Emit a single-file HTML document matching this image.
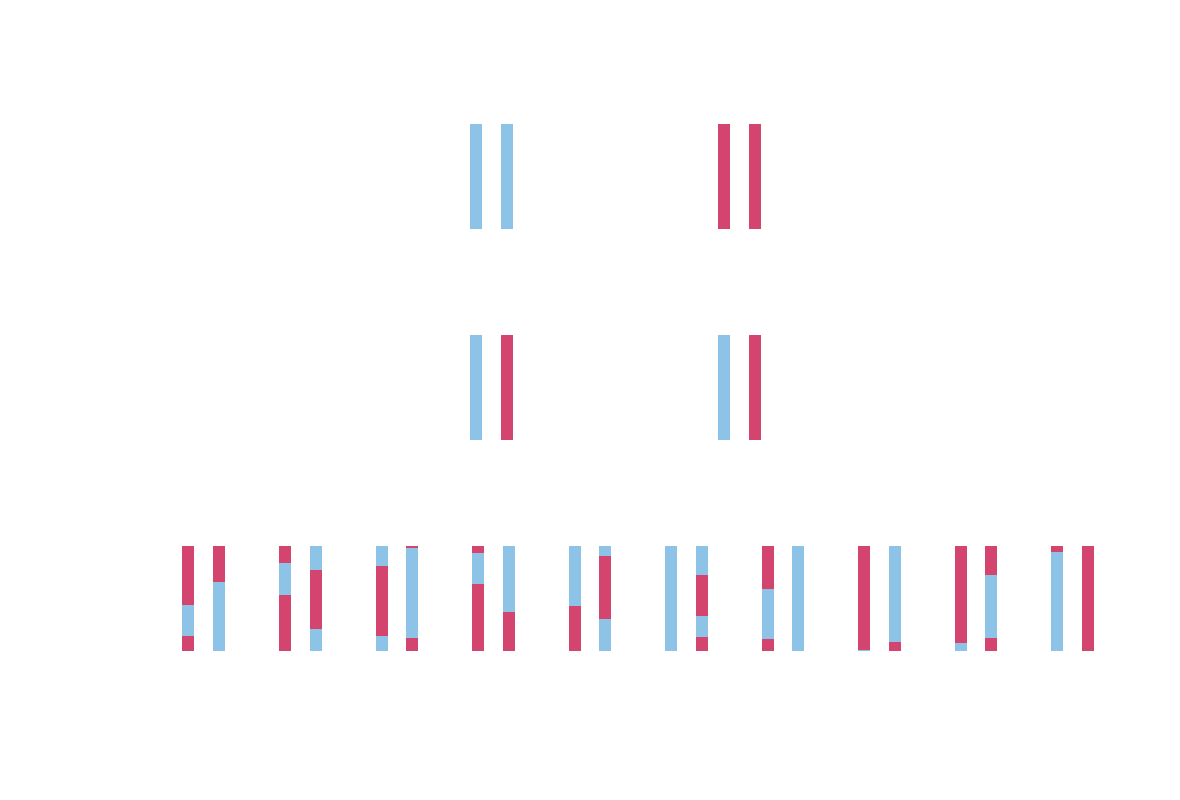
<!DOCTYPE html>
<html><head><meta charset="utf-8"><style>html,body{margin:0;padding:0;background:#fff}svg{display:block}</style></head>
<body>
<svg width="1180" height="800" viewBox="0 0 1180 800" xmlns="http://www.w3.org/2000/svg">
<defs><style>.b{fill:#8cc3e6}.r{fill:#d3456f}</style></defs>
<!-- top row -->
<rect class="b" x="470" y="124" width="12" height="105"/>
<rect class="b" x="501" y="124" width="12" height="105"/>
<rect class="r" x="718" y="124" width="12" height="105"/>
<rect class="r" x="749" y="124" width="12" height="105"/>
<!-- middle row -->
<rect class="b" x="470" y="335" width="12" height="105"/>
<rect class="r" x="501" y="335" width="12" height="105"/>
<rect class="b" x="718" y="335" width="12" height="105"/>
<rect class="r" x="749" y="335" width="12" height="105"/>
<!-- bottom row -->
<g>
<!-- pair1 -->
<rect class="r" x="182" y="546" width="12" height="59"/><rect class="b" x="182" y="605" width="12" height="31"/><rect class="r" x="182" y="636" width="12" height="15"/>
<rect class="r" x="213" y="546" width="12" height="36"/><rect class="b" x="213" y="582" width="12" height="69"/>
<!-- pair2 -->
<rect class="r" x="279" y="546" width="12" height="17"/><rect class="b" x="279" y="563" width="12" height="32"/><rect class="r" x="279" y="595" width="12" height="56"/>
<rect class="b" x="310" y="546" width="12" height="24"/><rect class="r" x="310" y="570" width="12" height="59"/><rect class="b" x="310" y="629" width="12" height="22"/>
<!-- pair3 -->
<rect class="b" x="376" y="546" width="12" height="20"/><rect class="r" x="376" y="566" width="12" height="70"/><rect class="b" x="376" y="636" width="12" height="15"/>
<rect class="r" x="406" y="546" width="12" height="2"/><rect class="b" x="406" y="548" width="12" height="90"/><rect class="r" x="406" y="638" width="12" height="13"/>
<!-- pair4 -->
<rect class="r" x="472" y="546" width="12" height="7"/><rect class="b" x="472" y="553" width="12" height="31"/><rect class="r" x="472" y="584" width="12" height="67"/>
<rect class="b" x="503" y="546" width="12" height="66"/><rect class="r" x="503" y="612" width="12" height="39"/>
<!-- pair5 -->
<rect class="b" x="569" y="546" width="12" height="60"/><rect class="r" x="569" y="606" width="12" height="45"/>
<rect class="b" x="599" y="546" width="12" height="10"/><rect class="r" x="599" y="556" width="12" height="63"/><rect class="b" x="599" y="619" width="12" height="32"/>
<!-- pair6 -->
<rect class="b" x="665" y="546" width="12" height="105"/>
<rect class="b" x="696" y="546" width="12" height="29"/><rect class="r" x="696" y="575" width="12" height="41"/><rect class="b" x="696" y="616" width="12" height="21"/><rect class="r" x="696" y="637" width="12" height="14"/>
<!-- pair7 -->
<rect class="r" x="762" y="546" width="12" height="43"/><rect class="b" x="762" y="589" width="12" height="50"/><rect class="r" x="762" y="639" width="12" height="12"/>
<rect class="b" x="792" y="546" width="12" height="105"/>
<!-- pair8 -->
<rect class="r" x="858" y="546" width="12" height="104"/><rect class="b" x="858" y="650" width="12" height="1"/>
<rect class="b" x="889" y="546" width="12" height="96"/><rect class="r" x="889" y="642" width="12" height="9"/>
<!-- pair9 -->
<rect class="r" x="955" y="546" width="12" height="97"/><rect class="b" x="955" y="643" width="12" height="8"/>
<rect class="r" x="985" y="546" width="12" height="29"/><rect class="b" x="985" y="575" width="12" height="63"/><rect class="r" x="985" y="638" width="12" height="13"/>
<!-- pair10 -->
<rect class="r" x="1051" y="546" width="12" height="6"/><rect class="b" x="1051" y="552" width="12" height="99"/>
<rect class="r" x="1082" y="546" width="12" height="105"/>
</g>
</svg>
</body></html>
